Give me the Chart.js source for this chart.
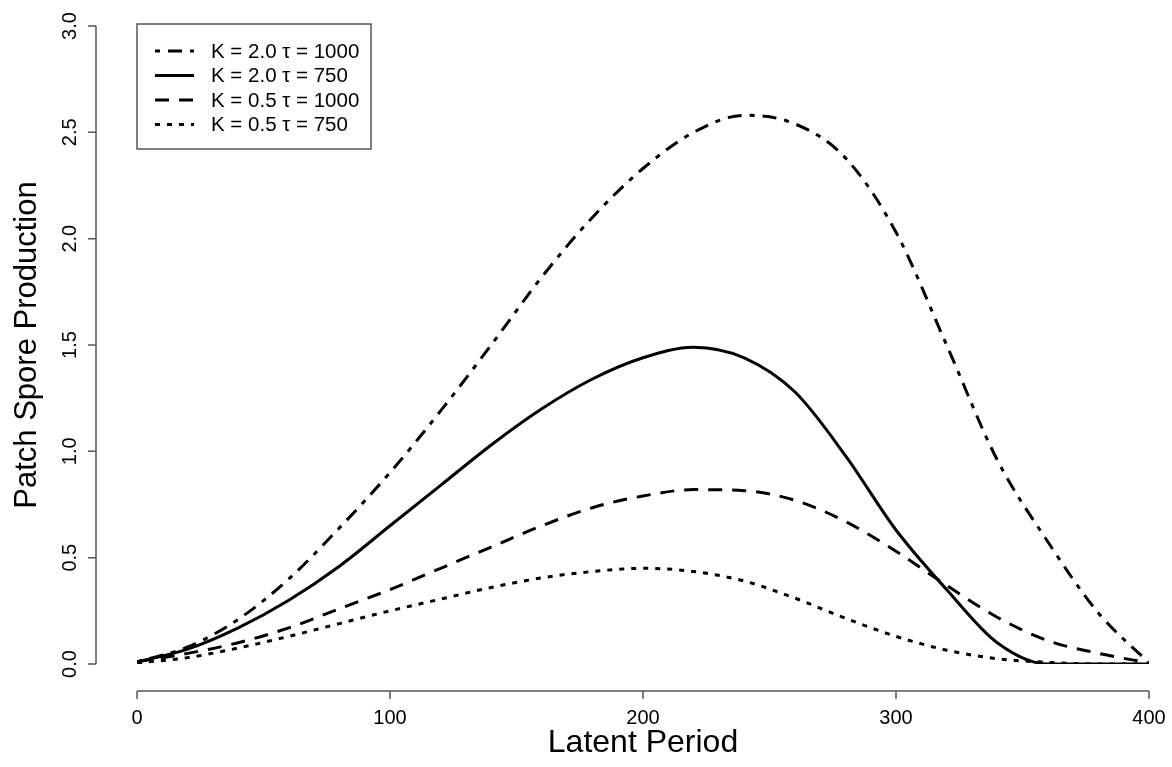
<!DOCTYPE html>
<html>
<head>
<meta charset="utf-8">
<script src="https://cdn.jsdelivr.net/npm/chart.js@4.4.1/dist/chart.umd.min.js"></script>
<style>
  html, body { margin: 0; padding: 0; background: #ffffff; }
  #wrap { width: 1172px; height: 767px; position: relative; }
</style>
</head>
<body>
<div id="wrap"><canvas id="c" width="1172" height="767"></canvas></div>
<script>
// Latent period values shared by every curve
const latentPeriod = [0, 20, 40, 60, 80, 100, 120, 140, 160, 180, 200, 220, 240, 260, 280, 300, 320, 340, 360, 380, 400];

// Patch spore production for each parameter set
const sporeK20T1000 = [0.01, 0.08, 0.21, 0.40, 0.64, 0.90, 1.19, 1.50, 1.82, 2.10, 2.33, 2.50, 2.58, 2.54, 2.38, 2.03, 1.50, 0.96, 0.575, 0.24, 0.005];
const sporeK20T750  = [0.01, 0.07, 0.17, 0.30, 0.46, 0.65, 0.84, 1.03, 1.20, 1.34, 1.44, 1.49, 1.44, 1.28, 0.98, 0.63, 0.35, 0.10, 0.0, 0.0, 0.0];
const sporeK05T1000 = [0.01, 0.05, 0.10, 0.17, 0.26, 0.35, 0.45, 0.55, 0.65, 0.735, 0.79, 0.82, 0.815, 0.77, 0.67, 0.53, 0.37, 0.22, 0.11, 0.05, 0.005];
const sporeK05T750  = [0.005, 0.03, 0.075, 0.13, 0.19, 0.25, 0.305, 0.36, 0.405, 0.435, 0.45, 0.435, 0.39, 0.31, 0.215, 0.13, 0.065, 0.025, 0.008, 0.0, 0.0];

const seriesLabels = ['K = 2.0 \u03C4 = 1000', 'K = 2.0 \u03C4 = 750', 'K = 0.5 \u03C4 = 1000', 'K = 0.5 \u03C4 = 750'];

// Axis ticks
const xTicks = [0, 100, 200, 300, 400];
const xTickLabels = ['0', '100', '200', '300', '400'];
const yTicks = [0, 0.5, 1.0, 1.5, 2.0, 2.5, 3.0];
const yTickLabels = ['0.0', '0.5', '1.0', '1.5', '2.0', '2.5', '3.0'];

const xTitle = 'Latent Period';
const yTitle = 'Patch Spore Production';

const dashStyles = [
  [5, 8, 14, 8],   // dot-dash
  [],              // solid
  [14, 10],        // dashed
  [5, 7]           // dotted
];

const FONT = '"Liberation Sans", Arial, Helvetica, sans-serif';

function toPoints(ys) {
  return latentPeriod.map((x, i) => ({ x: x, y: ys[i] }));
}

const allSeries = [sporeK20T1000, sporeK20T750, sporeK05T1000, sporeK05T750];

const datasets = allSeries.map((ys, i) => ({
  label: seriesLabels[i],
  data: toPoints(ys),
  borderColor: '#000000',
  borderWidth: 3,
  borderDash: dashStyles[i],
  borderCapStyle: 'butt',
  borderJoinStyle: 'round',
  pointRadius: 0,
  fill: false,
  cubicInterpolationMode: 'monotone'
}));

// Draws R-style detached axes, titles and the boxed legend
const baseGraphicsPlugin = {
  id: 'baseGraphics',
  afterDraw(chart) {
    const ctx = chart.ctx;
    const xs = chart.scales.x;
    const ys = chart.scales.y;
    const axisColor = '#555555';

    ctx.save();
    ctx.strokeStyle = axisColor;
    ctx.lineWidth = 1.5;
    ctx.fillStyle = '#000000';

    // x axis
    const xAxisY = 691;
    const x0 = xs.getPixelForValue(xTicks[0]);
    const x1 = xs.getPixelForValue(xTicks[xTicks.length - 1]);
    ctx.beginPath();
    ctx.moveTo(x0, xAxisY);
    ctx.lineTo(x1, xAxisY);
    xTicks.forEach(t => {
      const px = xs.getPixelForValue(t);
      ctx.moveTo(px, xAxisY);
      ctx.lineTo(px, xAxisY + 8);
    });
    ctx.stroke();
    ctx.font = '20px ' + FONT;
    ctx.textAlign = 'center';
    ctx.textBaseline = 'middle';
    xTicks.forEach((t, i) => {
      ctx.fillText(xTickLabels[i], xs.getPixelForValue(t), 718);
    });

    // y axis
    const yAxisX = 96;
    const y0 = ys.getPixelForValue(yTicks[0]);
    const y1 = ys.getPixelForValue(yTicks[yTicks.length - 1]);
    ctx.beginPath();
    ctx.moveTo(yAxisX, y0);
    ctx.lineTo(yAxisX, y1);
    yTicks.forEach(t => {
      const py = ys.getPixelForValue(t);
      ctx.moveTo(yAxisX, py);
      ctx.lineTo(yAxisX - 8, py);
    });
    ctx.stroke();
    yTicks.forEach((t, i) => {
      ctx.save();
      ctx.translate(70, ys.getPixelForValue(t));
      ctx.rotate(-Math.PI / 2);
      ctx.fillText(yTickLabels[i], 0, 0);
      ctx.restore();
    });

    // axis titles
    ctx.font = '32px ' + FONT;
    ctx.fillText(xTitle, (x0 + x1) / 2, 743);
    ctx.font = '31px ' + FONT;
    ctx.save();
    ctx.translate(27, (y0 + y1) / 2);
    ctx.rotate(-Math.PI / 2);
    ctx.fillText(yTitle, 0, 0);
    ctx.restore();

    // legend box
    const box = { left: 137, top: 24, right: 371, bottom: 149 };
    ctx.strokeStyle = axisColor;
    ctx.lineWidth = 1.5;
    ctx.strokeRect(box.left, box.top, box.right - box.left, box.bottom - box.top);
    ctx.font = '20.5px ' + FONT;
    ctx.textAlign = 'left';
    const rowY = [51, 75.5, 100, 124.5];
    chart.data.datasets.forEach((ds, i) => {
      ctx.save();
      ctx.strokeStyle = '#000000';
      ctx.lineWidth = 3;
      ctx.lineCap = 'butt';
      ctx.setLineDash(ds.borderDash);
      ctx.beginPath();
      ctx.moveTo(155, rowY[i]);
      ctx.lineTo(194, rowY[i]);
      ctx.stroke();
      ctx.restore();
      ctx.fillText(ds.label, 211, rowY[i] + 1);
    });
    ctx.restore();
  }
};

new Chart(document.getElementById('c'), {
  type: 'line',
  data: { datasets: datasets },
  options: {
    responsive: false,
    animation: false,
    devicePixelRatio: 1,
    layout: { padding: { left: 137, right: 23, top: 26, bottom: 103 } },
    plugins: { legend: { display: false }, tooltip: { enabled: false } },
    scales: {
      x: { type: 'linear', min: 0, max: 400, display: false },
      y: { type: 'linear', min: 0, max: 3, display: false }
    }
  },
  plugins: [baseGraphicsPlugin]
});
</script>
</body>
</html>
